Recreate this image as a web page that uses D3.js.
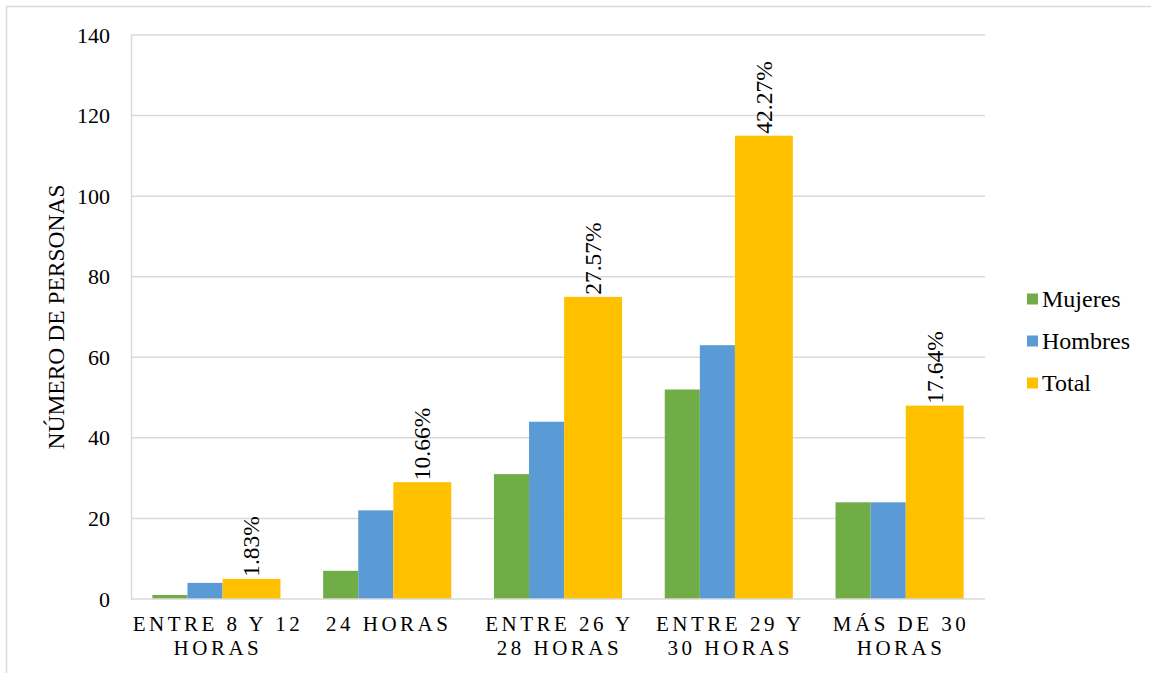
<!DOCTYPE html>
<html>
<head>
<meta charset="utf-8">
<script src="https://cdn.jsdelivr.net/npm/d3@7"></script>
<style>
  html, body { margin: 0; padding: 0; background: #fff; }
  svg { display: block; }
</style>
</head>
<body>
<svg id="chart" width="1151" height="673"></svg>
<script>
// Weekly working hours groups and counts of people
const categories = [
  ["ENTRE 8 Y 12", "HORAS"],
  ["24 HORAS"],
  ["ENTRE 26 Y", "28 HORAS"],
  ["ENTRE 29 Y", "30 HORAS"],
  ["MÁS DE 30", "HORAS"]
];
const seriesNames = ["Mujeres", "Hombres", "Total"];
const mujeres = [1, 7, 31, 52, 24];
const hombres = [4, 22, 44, 63, 24];
const total = [5, 29, 75, 115, 48];
const totalLabels = ["1.83%", "10.66%", "27.57%", "42.27%", "17.64%"];
const yTicks = [0, 20, 40, 60, 80, 100, 120, 140];
const colors = ["#70AD47", "#5B9BD5", "#FFC000"];

const FONT = "'Liberation Serif', 'Times New Roman', serif";
const svg = d3.select("#chart");

// outer chart frame
svg.append("rect")
  .attr("x", 6.5).attr("y", 6.5)
  .attr("width", 1200).attr("height", 800)
  .attr("fill", "none").attr("stroke", "#d9d9d9").attr("stroke-width", 1.5);

const plot = { left: 131, right: 985, top: 35, bottom: 599 };

const catKeys = categories.map(c => c.join(" "));
const x = d3.scaleBand().domain(catKeys).range([plot.left, plot.right]).padding(0);
const y = d3.scaleLinear().domain([0, 140]).range([plot.bottom, plot.top]);

// within each group the Total bar is wider than the others
const widthWeights = [1, 1, 1.65];
const cum = [0];
widthWeights.forEach((w, i) => cum.push(cum[i] + w));
const groupFrac = 0.75;
const inner = d3.scaleLinear()
  .domain([0, cum[cum.length - 1]])
  .range([x.bandwidth() * (1 - groupFrac) / 2, x.bandwidth() * (1 + groupFrac) / 2]);

// gridlines
svg.append("g")
  .selectAll("line")
  .data(yTicks.filter(t => t > 0))
  .join("line")
  .attr("x1", plot.left).attr("x2", plot.right)
  .attr("y1", d => y(d)).attr("y2", d => y(d))
  .attr("stroke", "#d9d9d9").attr("stroke-width", 1.5);

// y axis
const yAxis = svg.append("g")
  .attr("transform", `translate(${plot.left},0)`)
  .call(d3.axisLeft(y).tickValues(yTicks).tickSize(0).tickPadding(21));
yAxis.select(".domain").attr("stroke", "#d9d9d9").attr("stroke-width", 1.5);
yAxis.selectAll("text")
  .style("font-family", FONT)
  .style("font-size", "22px")
  .attr("fill", "#000");

// bars
const series = [mujeres, hombres, total];
const rows = [];
series.forEach((vals, s) => vals.forEach((v, i) => rows.push({ s, i, v })));
svg.append("g")
  .selectAll("rect")
  .data(rows)
  .join("rect")
  .attr("x", d => x(catKeys[d.i]) + inner(cum[d.s]))
  .attr("width", d => inner(cum[d.s + 1]) - inner(cum[d.s]))
  .attr("y", d => y(d.v))
  .attr("height", d => y(0) - y(d.v))
  .attr("fill", d => colors[d.s]);

// x axis baseline
svg.append("line")
  .attr("x1", plot.left).attr("x2", plot.right)
  .attr("y1", plot.bottom).attr("y2", plot.bottom)
  .attr("stroke", "#d9d9d9").attr("stroke-width", 1.5);

// percentage labels on Total bars
svg.append("g")
  .selectAll("text")
  .data(total)
  .join("text")
  .attr("transform", (d, i) => {
    const cx = x(catKeys[i]) + (inner(cum[2]) + inner(cum[3])) / 2;
    return `translate(${cx + 8},${y(d) - 2}) rotate(-90)`;
  })
  .attr("text-anchor", "start")
  .style("font-family", FONT)
  .style("font-size", "23.5px")
  .attr("fill", "#000")
  .text((d, i) => totalLabels[i]);

// category labels
const catG = svg.append("g");
categories.forEach((lines, i) => {
  const cx = x(catKeys[i]) + x.bandwidth() / 2;
  lines.forEach((ln, j) => {
    catG.append("text")
      .attr("x", cx + 1.5)
      .attr("y", 631 + j * 24)
      .attr("text-anchor", "middle")
      .style("font-family", FONT)
      .style("font-size", "21px")
      .style("letter-spacing", "3.5px")
      .attr("fill", "#000")
      .text(ln);
  });
});

// y axis title
svg.append("text")
  .attr("transform", "translate(64,317) rotate(-90)")
  .attr("text-anchor", "middle")
  .style("font-family", FONT)
  .style("font-size", "23.5px")
  .attr("fill", "#000")
  .text("NÚMERO DE PERSONAS");

// legend
const legend = svg.append("g");
seriesNames.forEach((name, s) => {
  const cy = 299 + s * 42;
  legend.append("rect")
    .attr("x", 1027).attr("y", cy - 5.5)
    .attr("width", 11).attr("height", 11)
    .attr("fill", colors[s]);
  legend.append("text")
    .attr("x", 1042).attr("y", cy + 8)
    .style("font-family", FONT)
    .style("font-size", "24px")
    .attr("fill", "#000")
    .text(name);
});
</script>
</body>
</html>
